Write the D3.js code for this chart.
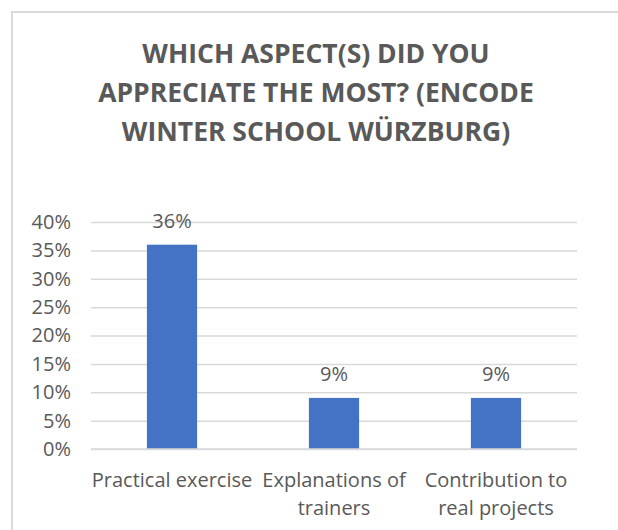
<!DOCTYPE html>
<html lang="en">
<head>
	<meta charset="UTF-8">
	<title>Which aspect(s) did you appreciate the most?</title>
	<style>
		html, body { margin: 0; padding: 0; background: #fff; }
		svg { display: block; }
	</style>
</head>
<body>
	<script src="https://d3js.org/d3.v7.min.js"></script>
	<script type="text/javascript">
		// data
		var categories = [["Practical exercise"], ["Explanations of", "trainers"], ["Contribution to", "real projects"]];
		var values = [0.36, 0.09, 0.09];
		var valueLabels = ["36%", "9%", "9%"];
		var yTicks = [0, 0.05, 0.10, 0.15, 0.20, 0.25, 0.30, 0.35, 0.40];
		var titleLines = ["WHICH ASPECT(S) DID YOU", "APPRECIATE THE MOST? (ENCODE", "WINTER SCHOOL WÜRZBURG)"];

		var W = 618, H = 530;
		var grey = "#595959", gridColor = "#d9d9d9", barColor = "#4472c4";
		var font = "'Open Sans', 'Noto Sans', sans-serif";

		var svg = d3.select("body").append("svg").attr("width", W).attr("height", H);

		// chart frame (runs past the right and bottom edges)
		svg.append("rect")
			.attr("x", 12).attr("y", 12)
			.attr("width", W + 20).attr("height", H + 20)
			.attr("fill", "#fff")
			.attr("stroke", gridColor).attr("stroke-width", 2);

		// title
		svg.append("g").selectAll("text")
			.data(titleLines).enter().append("text")
			.attr("x", 316)
			.attr("y", function(d, i){ return 63 + i * 39; })
			.attr("text-anchor", "middle")
			.style("font-family", font).style("font-weight", "bold")
			.style("font-size", "26.5px").style("fill", grey)
			.text(function(d){ return d; });

		var x = d3.scaleBand().domain(d3.range(categories.length))
			.range([91, 577]).paddingInner(0.69).paddingOuter(0.345);
		var y = d3.scaleLinear().domain([0, 0.4]).range([449, 222]);

		// gridlines + y labels
		var yAxis = d3.axisLeft(y).tickValues(yTicks)
			.tickSize(-(577 - 91)).tickPadding(20)
			.tickFormat(d3.format(".0%"));
		var gy = svg.append("g").attr("transform", "translate(91,0)").call(yAxis);
		gy.select(".domain").remove();
		gy.selectAll(".tick line").attr("stroke", gridColor).attr("stroke-width", 1.5);
		gy.selectAll(".tick text").style("font-family", font).style("font-size", "20px").style("fill", grey);

		// bars
		svg.append("g").selectAll("rect")
			.data(values).enter().append("rect")
			.attr("x", function(d, i){ return x(i); })
			.attr("y", function(d){ return y(d); })
			.attr("width", x.bandwidth())
			.attr("height", function(d){ return y(0) - y(d); })
			.attr("fill", barColor);

		// baseline drawn over the bars
		svg.append("line")
			.attr("x1", 91).attr("x2", 577)
			.attr("y1", y(0)).attr("y2", y(0))
			.attr("stroke", gridColor).attr("stroke-width", 1.5);

		// data labels
		svg.append("g").selectAll("text")
			.data(values).enter().append("text")
			.attr("x", function(d, i){ return x(i) + x.bandwidth() / 2; })
			.attr("y", function(d){ return y(d) - 17; })
			.attr("text-anchor", "middle")
			.style("font-family", font).style("font-size", "20px").style("fill", grey)
			.text(function(d, i){ return valueLabels[i]; });

		// category labels
		var cat = svg.append("g").selectAll("text")
			.data(categories).enter().append("text")
			.attr("text-anchor", "middle")
			.style("font-family", font).style("font-size", "20px").style("fill", grey);
		cat.selectAll("tspan")
			.data(function(d, i){ return d.map(function(s){ return { s: s, i: i }; }); })
			.enter().append("tspan")
			.attr("x", function(d){ return x(d.i) + x.bandwidth() / 2; })
			.attr("y", function(d, j){ return 487 + j * 28; })
			.text(function(d){ return d.s; });
	</script>
</body>
</html>
